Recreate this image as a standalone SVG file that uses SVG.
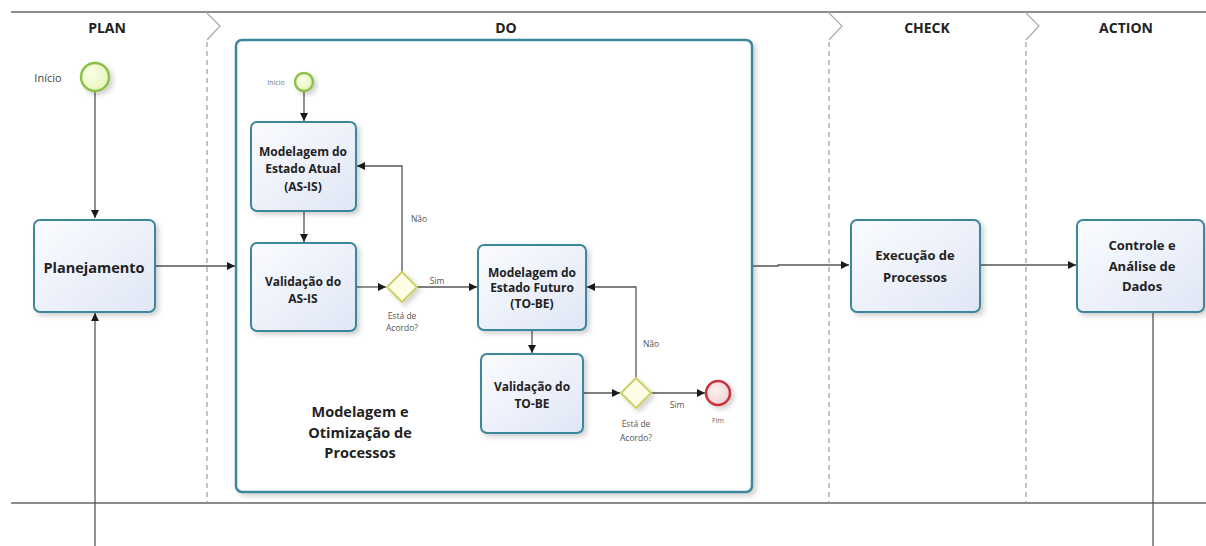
<svg xmlns="http://www.w3.org/2000/svg" width="1206" height="546" viewBox="0 0 1206 546">
<defs>
<linearGradient id="boxg" x1="0" y1="0" x2="1" y2="1">
<stop offset="0" stop-color="#fbfcff"/>
<stop offset="1" stop-color="#dfe6f5"/>
</linearGradient>
<radialGradient id="startg" cx="0.4" cy="0.4" r="0.7">
<stop offset="0" stop-color="#fbfee8"/>
<stop offset="1" stop-color="#e4f5b4"/>
</radialGradient>
<radialGradient id="endg" cx="0.4" cy="0.4" r="0.7">
<stop offset="0" stop-color="#fdf0f0"/>
<stop offset="1" stop-color="#efcfd2"/>
</radialGradient>
<filter id="sh" x="-20%" y="-20%" width="150%" height="150%">
<feDropShadow dx="3" dy="3" stdDeviation="2.5" flood-color="#000" flood-opacity="0.18"/>
</filter>
<marker id="arr" viewBox="0 0 10 10" refX="10" refY="5" markerWidth="8" markerHeight="8" markerUnits="userSpaceOnUse" orient="auto">
<path d="M0,0 L10,5 L0,10 z" fill="#1a1a1a"/>
</marker>
</defs>
<style>
.lane{fill:none;stroke:#999;stroke-width:1.2;stroke-dasharray:5,4}
.chev{fill:none;stroke:#aaa;stroke-width:1.2}
.border{stroke:#666;stroke-width:1.3}
.hdr{font-family:"Open Sans","DejaVu Sans",sans-serif;font-weight:bold;font-size:14px;fill:#222;text-anchor:middle;dominant-baseline:central}
.box{fill:url(#boxg);stroke:#3a879c;stroke-width:2;filter:url(#sh)}
.bt{font-family:"Open Sans","DejaVu Sans",sans-serif;font-weight:bold;font-size:12px;fill:#222;text-anchor:middle;dominant-baseline:central}
.bt13{font-size:13px}
.conn{fill:none;stroke:#555;stroke-width:1.3}
.start{fill:url(#startg);stroke:#8cc04a;stroke-width:2.5;filter:url(#sh)}
.end{fill:url(#endg);stroke:#c9323a;stroke-width:2.5;filter:url(#sh)}
.gw{fill:#fdfde6;stroke:#cfcf66;stroke-width:2;filter:url(#sh)}
.sm{font-family:"Open Sans","DejaVu Sans",sans-serif;font-size:8.5px;fill:#555;text-anchor:middle;dominant-baseline:central}
.container{fill:#fff;stroke:#3a879c;stroke-width:2.5;filter:url(#sh)}
</style>
<rect width="1206" height="546" fill="#fff"/>
<g id="pool">
<line class="border" x1="11" y1="12" x2="1206" y2="12"/>
<line class="border" x1="11" y1="503" x2="1206" y2="503"/>
<path class="chev" d="M206,12 L220,26 L207,40"/>
<line class="lane" x1="207" y1="42" x2="207" y2="503"/>
<path class="chev" d="M828,12 L842,26 L829,40"/>
<line class="lane" x1="829" y1="42" x2="829" y2="503"/>
<path class="chev" d="M1025,12 L1039,26 L1026,40"/>
<line class="lane" x1="1026" y1="42" x2="1026" y2="503"/>
<text class="hdr" x="107" y="27">PLAN</text>
<text class="hdr" x="506" y="27">DO</text>
<text class="hdr" x="927" y="27">CHECK</text>
<text class="hdr" x="1126" y="27">ACTION</text>
</g>
<g id="do-container">
<rect class="container" x="236" y="40" width="516" height="452" rx="6"/>
<text class="bt" style="font-size:14.5px" x="360" y="411">Modelagem e</text>
<text class="bt" style="font-size:14.5px" x="360" y="432">Otimização de</text>
<text class="bt" style="font-size:14.5px" x="360" y="452">Processos</text>
</g>
<g id="connectors">
<line class="conn" x1="95" y1="91" x2="95" y2="218" marker-end="url(#arr)"/>
<line class="conn" x1="95" y1="546" x2="95" y2="313" marker-end="url(#arr)"/>
<line class="conn" x1="155" y1="266" x2="235" y2="266" marker-end="url(#arr)"/>
<line class="conn" x1="304" y1="91" x2="304" y2="121" marker-end="url(#arr)"/>
<line class="conn" x1="304" y1="211" x2="304" y2="242" marker-end="url(#arr)"/>
<line class="conn" x1="356" y1="287" x2="386" y2="287" marker-end="url(#arr)"/>
<polyline class="conn" points="402,272 402,166 357,166" marker-end="url(#arr)"/>
<line class="conn" x1="417" y1="287" x2="477" y2="287" marker-end="url(#arr)"/>
<line class="conn" x1="532" y1="330" x2="532" y2="353" marker-end="url(#arr)"/>
<line class="conn" x1="583" y1="393" x2="620" y2="393" marker-end="url(#arr)"/>
<polyline class="conn" points="636,378 636,287 587,287" marker-end="url(#arr)"/>
<line class="conn" x1="651" y1="393" x2="705" y2="393" marker-end="url(#arr)"/>
<polyline class="conn" points="753,266 778,266 778,265 849,265" marker-end="url(#arr)"/>
<line class="conn" x1="980" y1="265" x2="1076" y2="265" marker-end="url(#arr)"/>
<line class="conn" x1="1153" y1="312" x2="1153" y2="546"/>
<text class="sm" x="419" y="218">Não</text>
<text class="sm" x="437" y="280">Sim</text>
<text class="sm" x="651" y="343">Não</text>
<text class="sm" x="677" y="404">Sim</text>
</g>
<g id="start-plan">
<circle class="start" cx="95" cy="77" r="14"/>
<text class="sm" style="font-size:11px;fill:#444" x="48" y="77">Início</text>
</g>
<g id="planejamento">
<rect class="box" x="34" y="220" width="121" height="92" rx="6"/>
<text class="bt" style="font-size:14.5px" x="94" y="267">Planejamento</text>
</g>
<g id="start-do">
<circle class="start" cx="304" cy="82" r="9"/>
<text class="sm" style="font-size:7px;fill:#777" x="276" y="82">Início</text>
</g>
<g id="asis-model">
<rect class="box" x="251" y="122" width="105" height="89" rx="6"/>
<text class="bt" x="303" y="151">Modelagem do</text>
<text class="bt" x="303" y="168">Estado Atual</text>
<text class="bt" x="303" y="186">(AS-IS)</text>
</g>
<g id="asis-valid">
<rect class="box" x="251" y="243" width="105" height="88" rx="6"/>
<text class="bt" x="303" y="281">Validação do</text>
<text class="bt" x="303" y="298">AS-IS</text>
</g>
<g id="gw1">
<polygon class="gw" points="402,272 417,287 402,302 387,287"/>
<text class="sm" x="402" y="315">Está de</text>
<text class="sm" x="402" y="327">Acordo?</text>
</g>
<g id="tobe-model">
<rect class="box" x="478" y="245" width="108" height="85" rx="6"/>
<text class="bt" x="532" y="272">Modelagem do</text>
<text class="bt" x="532" y="287">Estado Futuro</text>
<text class="bt" x="532" y="303">(TO-BE)</text>
</g>
<g id="tobe-valid">
<rect class="box" x="481" y="354" width="102" height="79" rx="6"/>
<text class="bt" x="532" y="386">Validação do</text>
<text class="bt" x="532" y="403">TO-BE</text>
</g>
<g id="gw2">
<polygon class="gw" points="636,378 651,393 636,408 621,393"/>
<text class="sm" x="636" y="423">Está de</text>
<text class="sm" x="636" y="437">Acordo?</text>
</g>
<g id="end-do">
<circle class="end" cx="718" cy="393" r="12"/>
<text class="sm" style="font-size:7px;fill:#666" x="718" y="420">Fim</text>
</g>
<g id="execucao">
<rect class="box" x="851" y="220" width="129" height="92" rx="6"/>
<text class="bt bt13" x="915" y="255">Execução de</text>
<text class="bt bt13" x="915" y="277">Processos</text>
</g>
<g id="controle">
<rect class="box" x="1077" y="220" width="127" height="92" rx="6"/>
<text class="bt bt13" x="1142" y="245">Controle e</text>
<text class="bt bt13" x="1142" y="266">Análise de</text>
<text class="bt bt13" x="1142" y="286">Dados</text>
</g>
</svg>
